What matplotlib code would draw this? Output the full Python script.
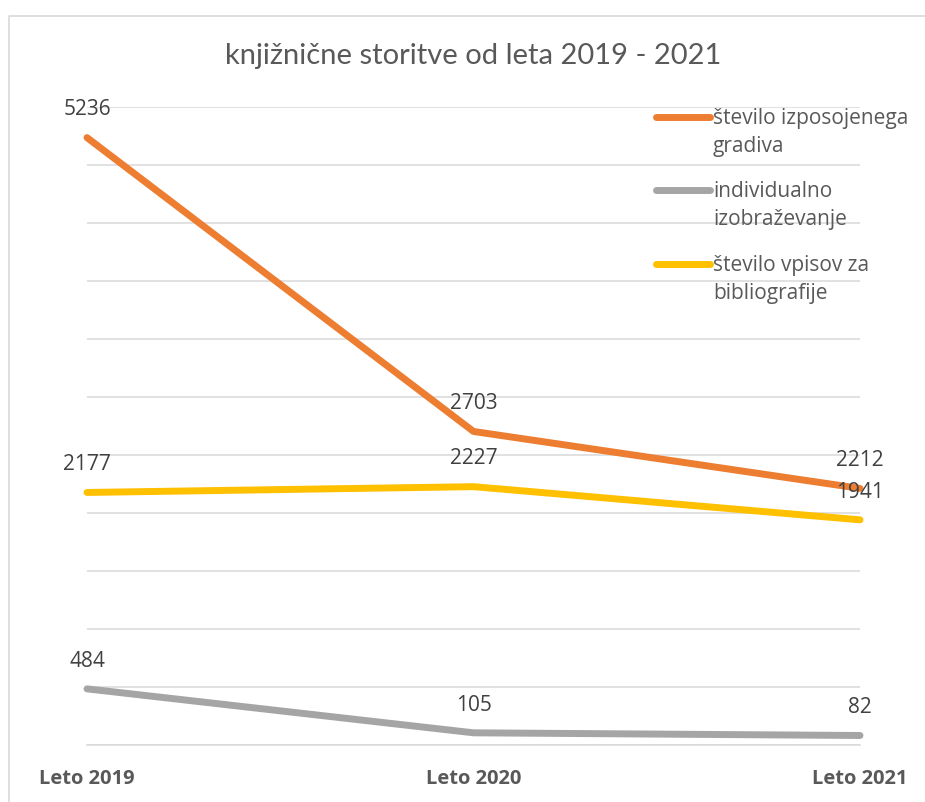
import matplotlib
matplotlib.use("Agg")
import matplotlib.pyplot as plt
from matplotlib.lines import Line2D

# ---- data ----
title = "knjižnične storitve od leta 2019 - 2021"
categories = ["Leto 2019", "Leto 2020", "Leto 2021"]
series_names = ["število izposojenega\ngradiva",
                "individualno\nizobraževanje",
                "število vpisov za\nbibliografije"]
izposoja = [5236, 2703, 2212]
izobrazevanje = [484, 105, 82]
vpisi = [2177, 2227, 1941]
series_values = [izposoja, izobrazevanje, vpisi]
colors = ["#ED7D31", "#A5A5A5", "#FFC000"]

W, H = 925, 802
fig = plt.figure(figsize=(W / 100, H / 100), dpi=100)
fig.patch.set_facecolor("white")

left, right, bottom, top = 87, 860, 745, 107
ax = fig.add_axes([left / W, 1 - bottom / H, (right - left) / W, (bottom - top) / H])
ax.set_xlim(0, len(categories) - 1)
ax.set_ylim(0, 5500)
ax.set_yticks(range(0, 5501, 500))
ax.yaxis.grid(True, color="#d9d9d9", lw=1.1)
ax.set_axisbelow(True)
for s in ["left", "right", "top"]:
    ax.spines[s].set_visible(False)
ax.spines["bottom"].set_color("#d9d9d9")
ax.spines["bottom"].set_linewidth(1.1)
ax.tick_params(axis="y", left=False, labelleft=False)
ax.tick_params(axis="x", length=0, pad=17)
x = list(range(len(categories)))
ax.set_xticks(x)
ax.set_xticklabels(categories, fontfamily="Open Sans", fontweight="bold",
                   fontsize=14.5, color="#595959")
ax.patch.set_alpha(0)

for vals, c in zip(series_values, colors):
    ax.plot(x, vals, color=c, lw=5, solid_capstyle="round",
            solid_joinstyle="round", clip_on=False, zorder=3)
    for xi, v in zip(x, vals):
        ax.annotate(str(v), (xi, v), xytext=(0, 20), textcoords="offset points",
                    ha="center", va="center", fontfamily="Open Sans",
                    fontsize=15, color="#404040", zorder=4)

# title
fig.text(473 / W, 1 - 56 / H, title, ha="center", va="center",
         fontfamily="Lato", fontsize=21, color="#595959")

# legend (manual, handles aligned with first line)
leg_y = [117, 190, 264]
for name, c, yy in zip(series_names, colors, leg_y):
    fig.add_artist(Line2D([656 / W, 710 / W], [1 - yy / H, 1 - yy / H],
                          color=c, lw=5, solid_capstyle="round",
                          transform=fig.transFigure))
    fig.text(713 / W, 1 - (yy - 9) / H, name, ha="left", va="top",
             fontfamily="Open Sans", fontsize=15, color="#595959",
             linespacing=1.45)

# chart border
fig.add_artist(Line2D([9 / W, 9 / W, 1.0], [0.0, 1 - 16 / H, 1 - 16 / H],
                      color="#d9d9d9", lw=1.2, transform=fig.transFigure))

fig.savefig("out.png", dpi=100, facecolor="white")
